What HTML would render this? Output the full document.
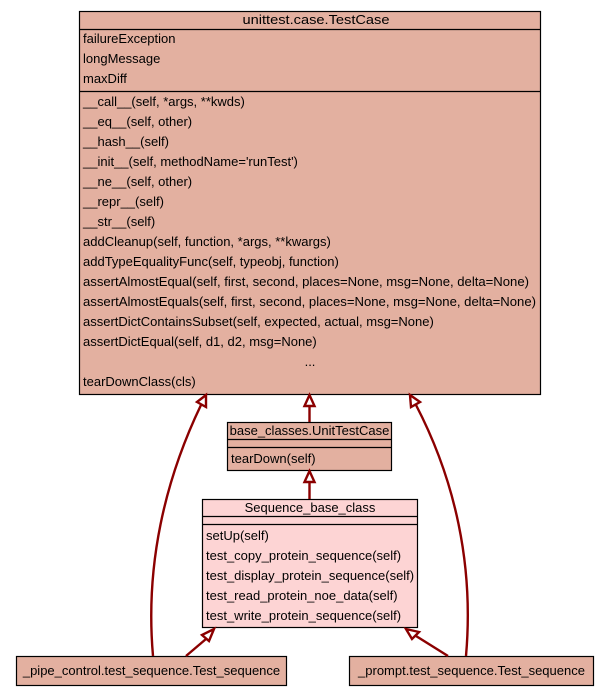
<!DOCTYPE html>
<html><head><meta charset="utf-8"><style>
html,body{margin:0;padding:0;background:#fff;}
svg{display:block;}
text{font-family:"Liberation Sans",sans-serif;font-size:13px;fill:#000;}
</style></head><body>
<svg width="605" height="696" viewBox="0 0 605 696" xmlns="http://www.w3.org/2000/svg">
<g stroke="#000" stroke-width="1.2">
<rect x="79.5" y="11.5" width="461" height="383" fill="#e3b0a0"/>
<line x1="79.5" y1="29.5" x2="540.5" y2="29.5"/>
<line x1="79.5" y1="91.5" x2="540.5" y2="91.5"/>
<rect x="227.5" y="422.5" width="164" height="48" fill="#e3b0a0"/>
<line x1="227.5" y1="439.5" x2="391.5" y2="439.5"/>
<line x1="227.5" y1="447.5" x2="391.5" y2="447.5"/>
<rect x="202.5" y="499.5" width="215" height="128" fill="#fdd4d4"/>
<line x1="202.5" y1="516.5" x2="417.5" y2="516.5"/>
<line x1="202.5" y1="524.5" x2="417.5" y2="524.5"/>
<rect x="16.5" y="656.5" width="270" height="29" fill="#e3b0a0"/>
<rect x="349.5" y="656.5" width="244" height="29" fill="#e3b0a0"/>
</g>
<g fill="none" stroke="#8b0000" stroke-width="2.4">
<path d="M309.5 422 L309.5 406"/>
<path d="M309.5 499 L309.5 482"/>
<path d="M153 656 C145 565,165 480,201 405"/>
<path d="M466 656 C474 565,455 480,416 405"/>
<path d="M186 656 L206 639"/>
<path d="M448 656 L416 636"/>
</g>
<g fill="#fff" stroke="#8b0000" stroke-width="2.4">
<polygon points="304.5,406 309.5,395 314.5,406"/>
<polygon points="304.5,482 309.5,471 314.5,482"/>
<polygon points="197,402 206,395 206,407"/>
<polygon points="411,407 410,395 420,402"/>
<polygon points="202,635 214,629 209,641"/>
<polygon points="412,639 406,629 419,632"/>
</g>
<text x="316" y="24" text-anchor="middle" textLength="147" lengthAdjust="spacingAndGlyphs">unittest.case.TestCase</text>
<text x="83" y="43">failureException</text>
<text x="83" y="63">longMessage</text>
<text x="83" y="83">maxDiff</text>
<text x="83" y="106">__call__(self, *args, **kwds)</text>
<text x="83" y="126">__eq__(self, other)</text>
<text x="83" y="146">__hash__(self)</text>
<text x="83" y="166">__init__(self, methodName='runTest')</text>
<text x="83" y="186">__ne__(self, other)</text>
<text x="83" y="206">__repr__(self)</text>
<text x="83" y="226">__str__(self)</text>
<text x="83" y="246">addCleanup(self, function, *args, **kwargs)</text>
<text x="83" y="266">addTypeEqualityFunc(self, typeobj, function)</text>
<text x="83" y="286" textLength="446" lengthAdjust="spacingAndGlyphs">assertAlmostEqual(self, first, second, places=None, msg=None, delta=None)</text>
<text x="83" y="306" textLength="453" lengthAdjust="spacingAndGlyphs">assertAlmostEquals(self, first, second, places=None, msg=None, delta=None)</text>
<text x="83" y="326">assertDictContainsSubset(self, expected, actual, msg=None)</text>
<text x="83" y="346">assertDictEqual(self, d1, d2, msg=None)</text>
<text x="310" y="366" text-anchor="middle">...</text>
<text x="83" y="386">tearDownClass(cls)</text>
<text x="309.5" y="435" text-anchor="middle">base_classes.UnitTestCase</text>
<text x="231" y="463">tearDown(self)</text>
<text x="310" y="512" text-anchor="middle">Sequence_base_class</text>
<text x="206" y="540">setUp(self)</text>
<text x="206" y="560">test_copy_protein_sequence(self)</text>
<text x="206" y="580">test_display_protein_sequence(self)</text>
<text x="206" y="600">test_read_protein_noe_data(self)</text>
<text x="206" y="620">test_write_protein_sequence(self)</text>
<text x="151.5" y="675" text-anchor="middle">_pipe_control.test_sequence.Test_sequence</text>
<text x="471.5" y="675" text-anchor="middle">_prompt.test_sequence.Test_sequence</text>
</svg>
</body></html>
